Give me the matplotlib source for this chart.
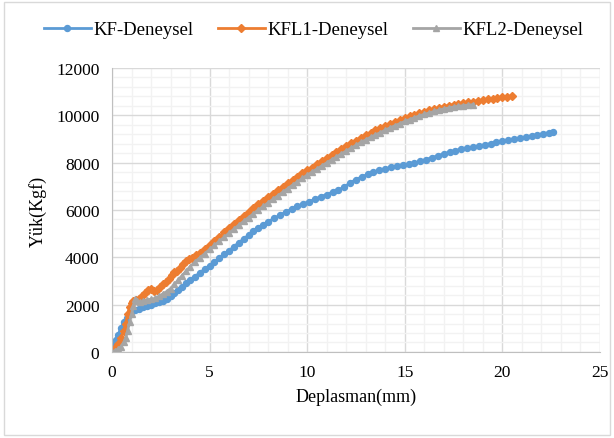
import matplotlib
matplotlib.use("Agg")
import matplotlib.pyplot as plt
from matplotlib.patches import Rectangle
from matplotlib.ticker import MultipleLocator

# KF-Deneysel
kf_x = [0, 0.1, 0.2, 0.3, 0.45, 0.6, 0.75, 0.9, 1.05, 1.2, 1.4, 1.6, 1.8, 2.0, 2.2, 2.4, 2.6, 2.8,
        3.0, 3.2, 3.4, 3.6, 3.8, 4.0, 4.25, 4.5, 4.75, 5.0, 5.25, 5.5, 5.75, 6.0, 6.25, 6.5, 6.75,
        7.0, 7.25, 7.5, 7.75, 8.0, 8.3, 8.6, 8.9, 9.2, 9.5, 9.8, 10.1, 10.4, 10.7, 11.0, 11.3, 11.6,
        11.9, 12.2, 12.5, 12.8, 13.1, 13.4, 13.7, 14.0, 14.3, 14.6, 14.9, 15.2, 15.5, 15.8, 16.1,
        16.4, 16.7, 17.0, 17.3, 17.6, 17.9, 18.2, 18.5, 18.8, 19.1, 19.4, 19.7, 20.0, 20.3, 20.6,
        20.9, 21.2, 21.5, 21.8, 22.1, 22.4, 22.6]
kf_y = [130, 300, 500, 700, 1000, 1250, 1450, 1600, 1720, 1780, 1830, 1880, 1930, 1990, 2050, 2100,
        2160, 2250, 2380, 2500, 2620, 2750, 2900, 3030, 3180, 3350, 3500, 3650, 3800, 3960, 4120,
        4280, 4450, 4620, 4780, 4940, 5100, 5250, 5380, 5500, 5640, 5780, 5910, 6030, 6150, 6260,
        6350, 6450, 6560, 6650, 6750, 6850, 6960, 7150, 7280, 7400, 7500, 7590, 7670, 7740, 7800,
        7860, 7900, 7930, 7970, 8050, 8130, 8210, 8290, 8370, 8440, 8510, 8570, 8620, 8660, 8700,
        8750, 8800, 8850, 8900, 8950, 8990, 9040, 9080, 9130, 9170, 9220, 9260, 9290]

# KFL1-Deneysel
kfl1_x = [0, 0.15, 0.3, 0.45, 0.6, 0.7, 0.8, 0.9, 1.0, 1.1, 1.25, 1.4, 1.55, 1.7, 1.85, 2.0, 2.15,
          2.3, 2.45, 2.6, 2.75, 2.9, 3.05, 3.2, 3.35, 3.5, 3.65, 3.8, 3.95, 4.1, 4.3, 4.5, 4.75,
          5.0, 5.25, 5.5, 5.75, 6.0, 6.25, 6.5, 6.75, 7.0, 7.25, 7.5, 7.75, 8.0, 8.25, 8.5, 8.75,
          9.0, 9.25, 9.5, 9.75, 10.0, 10.25, 10.5, 10.75, 11.0, 11.25, 11.5, 11.75, 12.0, 12.25,
          12.5, 12.75, 13.0, 13.25, 13.5, 13.75, 14.0, 14.25, 14.5, 14.75, 15.0, 15.25, 15.5,
          15.75, 16.0, 16.25, 16.5, 16.75, 17.0, 17.25, 17.5, 17.75, 18.0, 18.25, 18.5, 18.75,
          19.0, 19.25, 19.5, 19.75, 20.0, 20.25, 20.5]
kfl1_y = [0, 150, 350, 600, 900, 1200, 1600, 1900, 2050, 2150, 2200, 2250, 2350, 2480, 2620, 2680,
          2560, 2620, 2760, 2860, 2950, 3080, 3250, 3360, 3420, 3560, 3700, 3850, 3930, 3990, 4080,
          4200, 4350, 4500, 4680, 4870, 5050, 5220, 5400, 5570, 5740, 5900, 6070, 6240, 6380, 6530,
          6680, 6830, 6970, 7130, 7260, 7400, 7540, 7670, 7790, 7920, 8050, 8180, 8310, 8440, 8570,
          8690, 8810, 8930, 9040, 9150, 9260, 9360, 9450, 9540, 9630, 9720, 9800, 9880, 9950,
          10020, 10090, 10150, 10210, 10270, 10320, 10370, 10410, 10450, 10490, 10520, 10550,
          10580, 10610, 10640, 10670, 10700, 10730, 10760, 10780, 10800]

# KFL2-Deneysel
kfl2_x = [0, 0.15, 0.3, 0.45, 0.6, 0.7, 0.8, 0.9, 1.0, 1.1, 1.2, 1.3, 1.45, 1.6, 1.8, 2.0, 2.2,
          2.4, 2.6, 2.8, 3.0, 3.2, 3.4, 3.6, 3.8, 4.0, 4.25, 4.5, 4.75, 5.0, 5.25, 5.5, 5.75, 6.0,
          6.25, 6.5, 6.75, 7.0, 7.25, 7.5, 7.75, 8.0, 8.25, 8.5, 8.75, 9.0, 9.25, 9.5, 9.75, 10.0,
          10.25, 10.5, 10.75, 11.0, 11.25, 11.5, 11.75, 12.0, 12.25, 12.5, 12.75, 13.0, 13.25,
          13.5, 13.75, 14.0, 14.25, 14.5, 14.75, 15.0, 15.25, 15.5, 15.75, 16.0, 16.25, 16.5,
          16.75, 17.0, 17.25, 17.5, 17.75, 18.0, 18.25, 18.5]
kfl2_y = [0, 50, 120, 220, 400, 600, 900, 1250, 1600, 1950, 2230, 2150, 2100, 2150, 2200, 2230,
          2260, 2350, 2450, 2550, 2680, 2850, 3050, 3230, 3420, 3600, 3800, 3980, 4150, 4330, 4500,
          4680, 4850, 5020, 5190, 5360, 5520, 5680, 5840, 6000, 6150, 6300, 6450, 6600, 6750, 6900,
          7050, 7190, 7330, 7470, 7600, 7730, 7860, 7990, 8120, 8240, 8370, 8490, 8610, 8730, 8850,
          8960, 9070, 9170, 9270, 9370, 9470, 9560, 9650, 9740, 9820, 9900, 9970, 10040, 10100,
          10160, 10220, 10270, 10310, 10350, 10380, 10410, 10430, 10450]

plt.rcParams["font.family"] = ["Liberation Serif", "DejaVu Serif"]

fig = plt.figure(figsize=(6.14, 4.39), dpi=100)
ax = fig.add_axes([0.1824, 0.196, 0.7946, 0.647])

ax.plot(kf_x, kf_y, color="#5B9BD5", lw=2.0, marker="o", ms=4.3, label="KF-Deneysel")
ax.plot(kfl1_x, kfl1_y, color="#ED7D31", lw=2.0, marker="D", ms=3.6, label="KFL1-Deneysel")
ax.plot(kfl2_x, kfl2_y, color="#A5A5A5", lw=2.0, marker="^", ms=4.5, label="KFL2-Deneysel")

ax.set_xlim(0, 25)
ax.set_ylim(0, 12000)
ax.xaxis.set_major_locator(MultipleLocator(5))
ax.xaxis.set_minor_locator(MultipleLocator(1))
ax.yaxis.set_major_locator(MultipleLocator(2000))
ax.yaxis.set_minor_locator(MultipleLocator(400))
ax.grid(which="major", color="#D9D9D9", lw=1.0)
ax.grid(which="minor", color="#F2F2F2", lw=1.0)
ax.set_axisbelow(True)
for s in ["top", "right"]:
    ax.spines[s].set_visible(False)
for s in ["left", "bottom"]:
    ax.spines[s].set_color("#BFBFBF")
ax.tick_params(which="both", length=0, labelsize=12.5, colors="black")
ax.tick_params(axis="x", pad=9)
ax.tick_params(axis="y", pad=9)

ax.set_xlabel("Deplasman(mm)", fontsize=13, labelpad=5)
ax.set_ylabel("Yük(Kgf)", fontsize=13, labelpad=7)

fig.legend(loc="center", bbox_to_anchor=(0.511, 0.93), ncol=3, frameon=False, fontsize=13.5,
           handlelength=2.5, columnspacing=1.3, handletextpad=0.15)

fig.patches.append(Rectangle((0.007, 0.006), 0.986, 0.988, transform=fig.transFigure,
                             fill=False, edgecolor="#D9D9D9", lw=1.0))

fig.savefig("out.png", dpi=100)
